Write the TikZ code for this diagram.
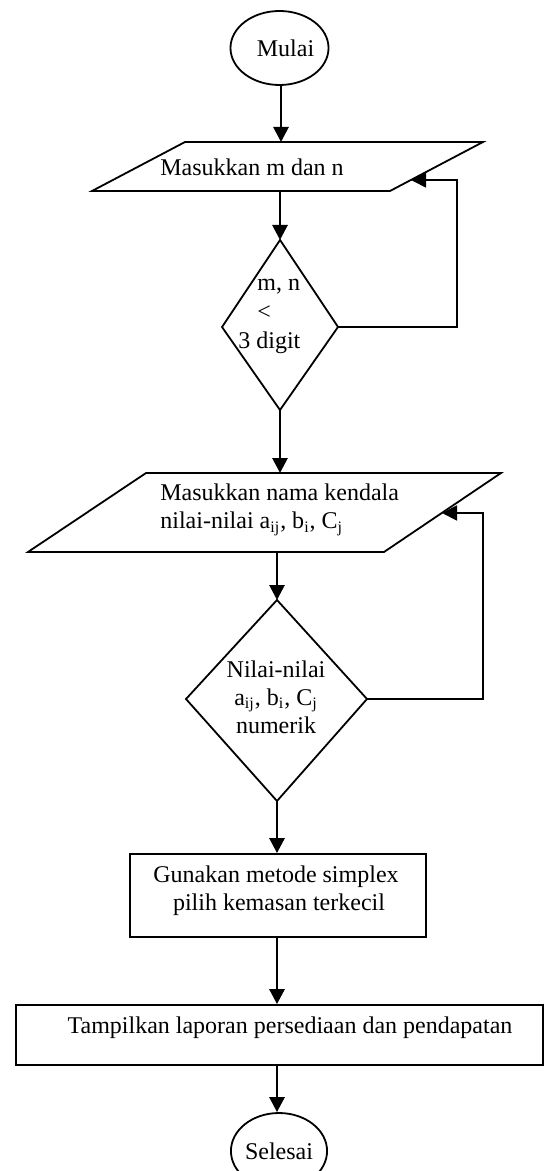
\documentclass[tikz,border=0pt]{standalone}
\usepackage{fontspec}
\setmainfont{Liberation Serif}
\usetikzlibrary{arrows.meta,shapes.geometric}
\tikzset{
  shapeline/.style={draw=black,line width=0.9pt},
  flow/.style={draw=black,line width=1.4pt,-{Triangle[length=7.5pt,width=7.5pt]}},
  loopline/.style={draw=black,line width=0.9pt,-{Triangle[length=7.5pt,width=7.5pt]}},
  term/.style={shapeline,ellipse,minimum width=47pt,minimum height=37pt,inner sep=0pt},
  procbox/.style={shapeline,rectangle,inner sep=0pt},
  txt/.style={inner sep=0pt,font=\fontsize{12pt}{14pt}\selectfont}
}
\begin{document}
\begin{tikzpicture}[x=0.5pt,y=-0.5pt]
\useasboundingbox (0,0) rectangle (544,1171);
% terminals
\node[term,txt] (mulai) at (279.5,48) {\hspace{6pt}Mulai};
% parallelogram 1
\coordinate (p1tl) at (185,142);
\coordinate (p1tr) at (483,142);
\coordinate (p1br) at (390,191);
\coordinate (p1bl) at (92,191);
\draw[shapeline] (p1bl) -- (p1tl) -- (p1tr) -- (p1br) -- cycle;
\node[txt] (p1text) at (252,167) {Masukkan m dan n};
\coordinate (p1top) at (281,142);
\coordinate (p1bot) at (280,191);
\coordinate (p1in) at (411,180);
% diamond 1
\coordinate (d1t) at (280,240);
\coordinate (d1l) at (222,327);
\coordinate (d1r) at (338,327);
\coordinate (d1b) at (280,410);
\draw[shapeline] (d1t) -- (d1r) -- (d1b) -- (d1l) -- cycle;
\node[txt,align=left,anchor=west,font=\fontsize{12pt}{14.5pt}\selectfont] (d1text) at (238,316) {\hspace{9.5pt}m, n\\\hspace{9.5pt}<\\3 digit};
\coordinate (l1a) at (457,327);
\coordinate (l1b) at (457,180);
% parallelogram 2
\coordinate (p2tl) at (146,473);
\coordinate (p2tr) at (501,473);
\coordinate (p2br) at (384,552);
\coordinate (p2bl) at (28,552);
\draw[shapeline] (p2bl) -- (p2tl) -- (p2tr) -- (p2br) -- cycle;
\node[txt,align=left,anchor=west] (p2text) at (160,510) {Masukkan nama kendala\\nilai-nilai a\textsubscript{ij}, b\textsubscript{i}, C\textsubscript{j}};
\coordinate (p2top) at (280,473);
\coordinate (p2bot) at (277,552);
\coordinate (p2in) at (442,513);
% diamond 2
\coordinate (d2t) at (277,600);
\coordinate (d2l) at (186,699);
\coordinate (d2r) at (367,699);
\coordinate (d2b) at (277,801);
\draw[shapeline] (d2t) -- (d2r) -- (d2b) -- (d2l) -- cycle;
\node[txt,align=center] (d2text) at (276,697) {Nilai-nilai\\a\textsubscript{ij}, b\textsubscript{i}, C\textsubscript{j}\\numerik};
\coordinate (l2a) at (483,699);
\coordinate (l2b) at (483,513);
% process boxes
\node[procbox,minimum width=148pt,minimum height=41.5pt] (r1) at (278,895.5) {};
\node[txt,align=center] (r1text) at (276,891) {Gunakan metode simplex\\\hspace{3pt}pilih kemasan terkecil};
\node[procbox,minimum width=263.5pt,minimum height=30pt] (r2) at (279.5,1035) {};
\node[txt] (r2text) at (290,1028) {Tampilkan laporan persediaan dan pendapatan};
\node[term,txt,minimum height=38pt] (selesai) at (279,1151) {Selesai};
% connectors
\draw[flow] (mulai.south -| p1top) -- (p1top);
\draw[flow] (p1bot) -- (d1t);
\draw[loopline] (d1r) -- (l1a) -- (l1b) -- (p1in);
\draw[flow] (d1b) -- (p2top);
\draw[flow] (p2bot) -- (d2t);
\draw[loopline] (d2r) -- (l2a) -- (l2b) -- (p2in);
\draw[flow] (d2b) -- (r1.north -| d2b);
\draw[flow] (r1.south -| d2b) -- (r2.north -| d2b);
\draw[flow] (r2.south -| d2b) -- (selesai.north -| d2b);
\end{tikzpicture}
\end{document}
